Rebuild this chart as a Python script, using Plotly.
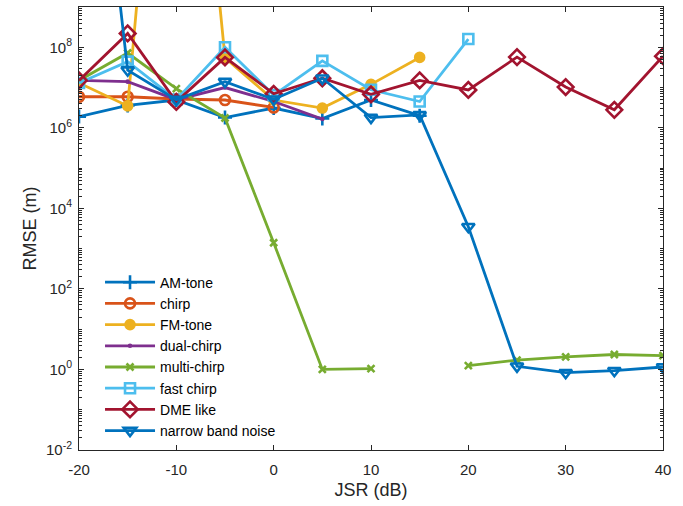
import plotly.graph_objects as go

jsr = [-20, -15, -10, -5, 0, 5, 10, 15, 20, 25, 30, 35, 40]

am_tone = [1.9e6, 3.6e6, 4.9e6, 1.8e6, 3.1e6, 1.7e6, 4.9e6, 2.0e6, None, None, None, None, None]
chirp = [5.9e6, 5.9e6, 5.2e6, 4.9e6, 3.2e6, None, None, None, None, None, None, None, None]
fm_tone = [1.3e7, 3.5e6, 1e20, 5.5e7, 4.9e6, 3.1e6, 1.2e7, 5.6e7, None, None, None, None, None]
dual_chirp = [1.5e7, 1.4e7, 5.0e6, 1.0e7, 4.5e6, 1.65e6, None, None, None, None, None, None, None]
multi_chirp = [1.5e7, 7.2e7, 9.4e6, 1.75e6, 1.4e3, 1.0, 1.05, None, 1.25, 1.7, 2.05, 2.35, 2.2]
fast_chirp = [1.3e7, 4.4e7, 5.0e6, 1.0e8, 6.5e6, 4.6e7, 8.8e6, 4.5e6, 1.6e8, None, None, None, None]
dme_like = [1.5e7, 2.2e8, 4.4e6, 5.6e7, 7.0e6, 1.7e7, 6.8e6, 1.5e7, 8.7e6, 5.7e7, 1.03e7, 2.8e6, 6.0e7]
narrow_band = [1e18, 2.7e7, 5.0e6, 1.4e7, 5.1e6, 1.7e7, 1.8e6, 2.1e6, 3.5e3, 1.2, 0.83, 0.93, 1.15]

x_ticks = [-20, -10, 0, 10, 20, 30, 40]
x_tick_text = ["-20", "-10", "0", "10", "20", "30", "40"]
y_exps = [-2, 0, 2, 4, 6, 8]

series = [
    ("AM-tone", am_tone, "#0072BD", "cross-thin-open", 10),
    ("chirp", chirp, "#D95319", "circle-open", 10),
    ("FM-tone", fm_tone, "#EDB120", "circle", 9),
    ("dual-chirp", dual_chirp, "#7E2F8E", "circle", 2),
    ("multi-chirp", multi_chirp, "#77AC30", "x-thin-open", 7),
    ("fast chirp", fast_chirp, "#4DBEEE", "square-open", 10),
    ("DME like", dme_like, "#A2142F", "diamond-open", 12),
    ("narrow band noise", narrow_band, "#0072BD", "triangle-down-open", 11),
]

fig = go.Figure()
for name, vals, color, sym, size in series:
    fig.add_trace(go.Scatter(
        x=jsr, y=vals, name=name, mode="lines+markers",
        line=dict(color=color, width=2.8),
        marker=dict(symbol=sym, size=size, color=color,
                    line=dict(color=color, width=2.6)),
        connectgaps=False, cliponaxis=True,
    ))

minor_vals = []
for e in range(-2, 9):
    for m in range(1, 10):
        if m == 1 and e % 2 == 0:
            continue
        minor_vals.append(m * 10.0 ** e)

axis_common = dict(
    showline=True, linecolor="#262626", linewidth=1, mirror="allticks",
    ticks="inside", ticklen=5, tickcolor="#262626", showgrid=False, zeroline=False,
    tickfont=dict(family="Liberation Sans, Arial", size=15, color="#262626"),
)

fig.update_layout(
    width=683, height=506,
    margin=dict(l=79, r=20, t=7, b=56),
    paper_bgcolor="white", plot_bgcolor="white",
    font=dict(family="Liberation Sans, Arial", color="#262626"),
    xaxis=dict(range=[-20, 40], tickvals=x_ticks, ticktext=x_tick_text,
               ticklabelstandoff=6,
               title=dict(text="JSR (dB)", font=dict(size=18), standoff=6),
               **axis_common),
    yaxis=dict(type="log", range=[-2, 9],
               tickvals=[10 ** e for e in y_exps],
               ticktext=["10<sup>%d</sup>" % e for e in y_exps],
               ticklabelstandoff=3,
               minor=dict(ticks="inside", ticklen=3, tickmode="array", tickvals=minor_vals,
                          tickcolor="#262626", showgrid=False),
               title=dict(text="RMSE (m)", font=dict(size=18), standoff=4),
               **axis_common),
    legend=dict(x=0.036, y=0.414, xanchor="left", yanchor="top",
                bgcolor="rgba(255,255,255,0)", borderwidth=0, itemwidth=50,
                font=dict(family="Liberation Sans, Arial", size=14, color="#000000"),
                tracegroupgap=0),
    showlegend=True,
)

fig.write_html("out.html")
